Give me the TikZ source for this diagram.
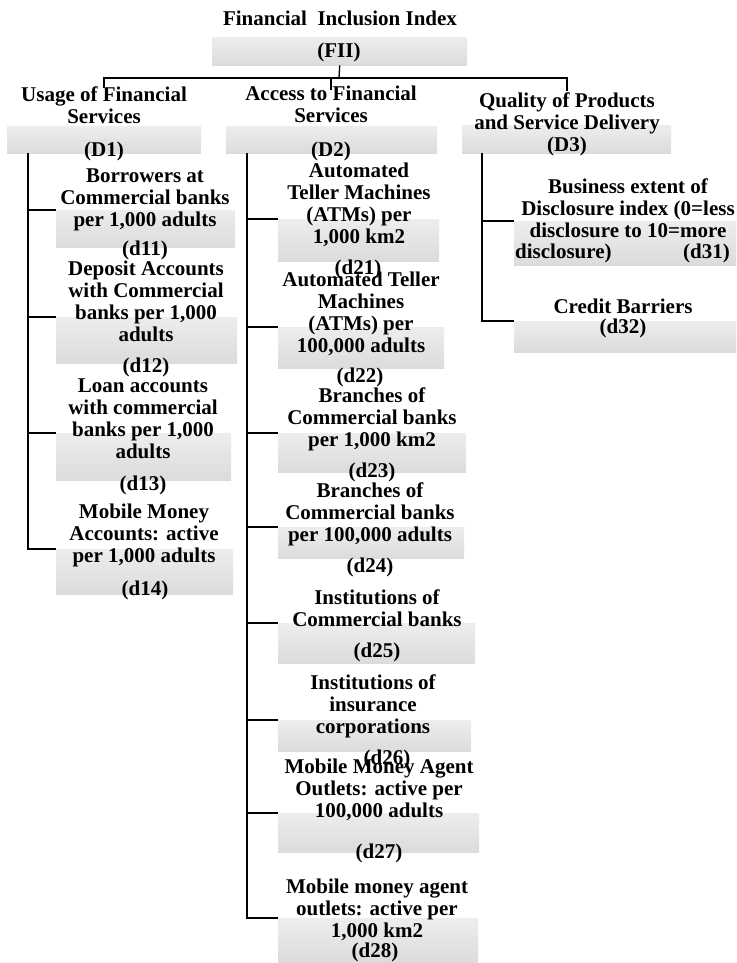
\documentclass[tikz,border=0pt]{standalone}
\usepackage{fontspec}
\setmainfont{Liberation Serif}
\usetikzlibrary{calc}

\definecolor{celltop}{gray}{0.93}
\definecolor{cellmid}{gray}{0.985}
\definecolor{cellbottom}{gray}{0.86}

\tikzset{
  cell/.style={rectangle, draw=none, top color=celltop, middle color=cellmid, bottom color=cellbottom, inner sep=0pt, anchor=north west},
  txt/.style={font=\fontsize{21}{22}\selectfont\bfseries, align=center, inner sep=0pt, anchor=base},
  link/.style={line width=1.3pt}
}

\begin{document}
\begin{tikzpicture}[x=1pt,y=-1pt]
                \useasboundingbox (0,0) rectangle (736,963);
                % shaded boxes
                \node[cell, minimum width=255pt, minimum height=28pt] (FIIbox) at (212,37) {};
                \node[cell, minimum width=194pt, minimum height=27pt] (D1box) at (7,126) {};
                \node[cell, minimum width=211pt, minimum height=27pt] (D2box) at (226,126) {};
                \node[cell, minimum width=209pt, minimum height=28pt] (D3box) at (462,125) {};
                \node[cell, minimum width=179pt, minimum height=37pt] (d11box) at (56,210) {};
                \node[cell, minimum width=181pt, minimum height=46pt] (d12box) at (56,317) {};
                \node[cell, minimum width=175pt, minimum height=47pt] (d13box) at (56,433) {};
                \node[cell, minimum width=177pt, minimum height=45pt] (d14box) at (56,549) {};
                \node[cell, minimum width=161pt, minimum height=42pt] (d21box) at (278,219) {};
                \node[cell, minimum width=166pt, minimum height=41pt] (d22box) at (278,327) {};
                \node[cell, minimum width=188pt, minimum height=39pt] (d23box) at (278,433) {};
                \node[cell, minimum width=186pt, minimum height=31pt] (d24box) at (278,527) {};
                \node[cell, minimum width=197pt, minimum height=40pt] (d25box) at (278,623) {};
                \node[cell, minimum width=193pt, minimum height=31pt] (d26box) at (278,720) {};
                \node[cell, minimum width=201pt, minimum height=39pt] (d27box) at (278,813) {};
                \node[cell, minimum width=200pt, minimum height=45pt] (d28box) at (278,918) {};
                \node[cell, minimum width=222pt, minimum height=44pt] (d31box) at (514,221) {};
                \node[cell, minimum width=222pt, minimum height=31pt] (d32box) at (514,321) {};
                % texts (placed by their last baseline)
                \node[txt] (title) at (340,26) {Financial\ \ Inclusion Index};
                \node[txt] (FII) at (339,58) {(FII)};
                \node[txt] (D1) at (104,124) {Usage of Financial\\Services};
                \node[txt] (D1id) at (104,157) {(D1)};
                \node[txt] (D2) at (331,123) {Access to Financial\\Services};
                \node[txt] (D2id) at (331,157) {(D2)};
                \node[txt] (D3) at (567,129) {Quality of Products\\and Service Delivery};
                \node[txt] (D3id) at (567,151) {(D3)};
                \node[txt] (d11) at (145,226) {Borrowers at\\Commercial banks\\per 1,000 adults};
                \node[txt] (d11id) at (145,255) {(d11)};
                \node[txt] (d12) at (146,341) {Deposit Accounts\\with Commercial\\banks per 1,000\\adults};
                \node[txt] (d12id) at (146,372) {(d12)};
                \node[txt] (d13) at (143,458) {Loan accounts\\with commercial\\banks per 1,000\\adults};
                \node[txt] (d13id) at (143,490) {(d13)};
                \node[txt] (d14) at (144,562) {Mobile Money\\Accounts: active\\per 1,000 adults};
                \node[txt] (d14id) at (145,595) {(d14)};
                \node[txt] (d21) at (359,243) {Automated\\Teller Machines\\(ATMs) per\\1,000 km2};
                \node[txt] (d21id) at (358,274) {(d21)};
                \node[txt] (d22) at (361,352) {Automated Teller\\Machines\\(ATMs) per\\100,000 adults};
                \node[txt] (d22id) at (360,382) {(d22)};
                \node[txt] (d23) at (372,446) {Branches of\\Commercial banks\\per 1,000 km2};
                \node[txt] (d23id) at (372,477) {(d23)};
                \node[txt] (d24) at (370,541) {Branches of\\Commercial banks\\per 100,000 adults};
                \node[txt] (d24id) at (370,572) {(d24)};
                \node[txt] (d25) at (377,626) {Institutions of\\Commercial banks};
                \node[txt] (d25id) at (377,657) {(d25)};
                \node[txt] (d26) at (373,733) {Institutions of\\insurance\\corporations};
                \node[txt] (d26id) at (387,764) {(d26)};
                \node[txt] (d27) at (379,817) {Mobile Money Agent\\Outlets: active per\\100,000 adults};
                \node[txt] (d27id) at (379,858) {(d27)};
                \node[txt] (d28) at (377,937) {Mobile money agent\\outlets: active per\\1,000 km2};
                \node[txt] (d28id) at (375,957) {(d28)};
                \node[txt] (d31) at (628,237) {Business extent of\\Disclosure index (0=less\\disclosure to 10=more};
                \node[txt, anchor=base west] (d31tail) at (515,258) {disclosure)};
                \node[txt, anchor=base east] (d31id) at (730,258) {(d31)};
                \node[txt] (d32) at (623,313) {Credit Barriers};
                \node[txt] (d32id) at (623,333) {(d32)};
                % connectors
                \coordinate (bus) at (339,78);
                \coordinate (D1tip) at (104,88);
                \coordinate (D2tip) at (331,90);
                \coordinate (D3tip) at (567,91);
                \coordinate (D1trunk) at (28,153);
                \coordinate (D2trunk) at (247,153);
                \coordinate (D3trunk) at (482,153);
                \draw[link] (FIIbox.south) -- (bus);
                \draw[link] (D1tip) -- (D1tip |- bus) -- (D3tip |- bus) -- (D3tip);
                \draw[link] (D2tip) -- (D2tip |- bus);
                \draw[link] (D1trunk) |- (d11box.north west);
                \draw[link] (D1trunk) |- (d12box.north west);
                \draw[link] (D1trunk) |- (d13box.north west);
                \draw[link] (D1trunk) |- (d14box.north west);
                \draw[link] (D2trunk) |- (d21box.north west);
                \draw[link] (D2trunk) |- (d22box.north west);
                \draw[link] (D2trunk) |- (d23box.north west);
                \draw[link] (D2trunk) |- (d24box.north west);
                \draw[link] (D2trunk) |- (d25box.north west);
                \draw[link] (D2trunk) |- (d26box.north west);
                \draw[link] (D2trunk) |- (d27box.north west);
                \draw[link] (D2trunk) |- (d28box.north west);
                \draw[link] (D3trunk) |- (d31box.north west);
                \draw[link] (D3trunk) |- (d32box.north west);
\end{tikzpicture}
\end{document}
